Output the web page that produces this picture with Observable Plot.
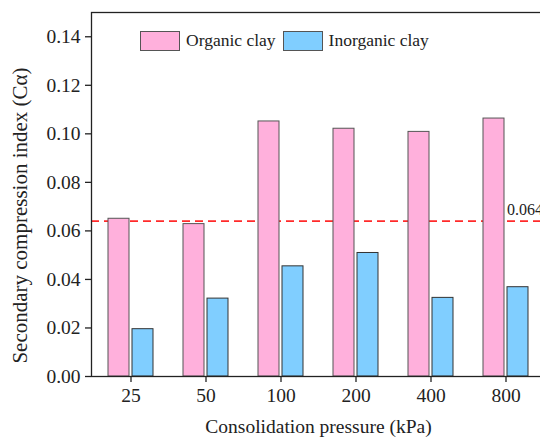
<!DOCTYPE html>
<html>
<head>
<meta charset="utf-8">
<script src="https://cdn.jsdelivr.net/npm/d3@7"></script>
<script src="https://cdn.jsdelivr.net/npm/@observablehq/plot@0.6"></script>
<style>
  html, body { margin: 0; padding: 0; background: #fff; overflow: hidden; }
  #wrap { position: relative; width: 540px; height: 439px; overflow: hidden; }
  #wrap svg { max-width: none !important; display: block; }
  .legend { position: absolute; top: 30px; left: 140px; display: flex; align-items: center;
    font-family: "Liberation Serif", "Times New Roman", Tinos, Times, serif; font-size: 17.5px; color: #222; }
  .sw { width: 38px; height: 18px; border: 1px solid #555; display: inline-block; margin-right: 6px; }
  .item { display: flex; align-items: center; margin-right: 7px; }
</style>
</head>
<body>
<div id="wrap"></div>
<script>
const pressures = ["25", "50", "100", "200", "400", "800"];
const organic = [0.065, 0.0628, 0.1051, 0.1021, 0.1008, 0.1063];
const inorganic = [0.0195, 0.0321, 0.0454, 0.0509, 0.0324, 0.0368];
const seriesNames = ["Organic clay", "Inorganic clay"];
const colors = ["#FFB0DC", "#80CEFF"];
const refValue = 0.064;
const yTicks = [0, 0.02, 0.04, 0.06, 0.08, 0.10, 0.12, 0.14];
const xTitle = "Consolidation pressure (kPa)";
const yTitle = "Secondary compression index (Cα)";

const orgData = pressures.map((p, i) => ({p, v: organic[i]}));
const inoData = pressures.map((p, i) => ({p, v: inorganic[i]}));

const chart = Plot.plot({
  width: 560,
  height: 439,
  marginLeft: 91,
  marginRight: 15,
  marginTop: 12,
  marginBottom: 63,
  style: {fontFamily: "\"Liberation Serif\", \"Times New Roman\", Tinos, Times, serif", fontSize: "19.5px", color: "#222", background: "#fff", maxWidth: "none"},
  x: {domain: pressures, paddingInner: 0.4, paddingOuter: 0.217},
  y: {domain: [0, 0.15]},
  marks: [
    Plot.ruleY([refValue], {stroke: "#ff2a2a", strokeWidth: 1.8, strokeDasharray: "8,5"}),
    Plot.barY(orgData, {x: "p", y: "v", fill: colors[0], stroke: "#555", strokeWidth: 1, insetRight: 24}),
    Plot.barY(inoData, {x: "p", y: "v", fill: colors[1], stroke: "#333", strokeWidth: 1, insetLeft: 24}),
    Plot.text([refValue], {x: () => "800", y: d => d, text: d => d.toFixed(3), textAnchor: "start", dx: 1, dy: -11, fontSize: 16, fill: "#222"}),
    Plot.frame({stroke: "#222", strokeWidth: 1.3}),
    Plot.axisY({ticks: yTicks, tickFormat: d3.format(".2f"), tickSize: 6, tickPadding: 5, label: null, stroke: "#222", strokeWidth: 1.3}),
    Plot.axisX({tickSize: 6, tickPadding: 6, label: xTitle, labelAnchor: "center", labelArrow: "none", labelOffset: 56, stroke: "#222", strokeWidth: 1.3}),
    Plot.text([yTitle], {frameAnchor: "left", rotate: -90, textAnchor: "middle", dx: -71, dy: 21, fontSize: 21, fill: "#222"})
  ]
});
const wrap = document.getElementById("wrap");
wrap.appendChild(chart);

const legend = document.createElement("div");
legend.className = "legend";
seriesNames.forEach((n, i) => {
  const it = document.createElement("div");
  it.className = "item";
  const sw = document.createElement("span");
  sw.className = "sw";
  sw.style.background = colors[i];
  it.appendChild(sw);
  const t = document.createElement("span");
  t.textContent = n;
  it.appendChild(t);
  legend.appendChild(it);
});
wrap.appendChild(legend);
</script>
</body>
</html>
